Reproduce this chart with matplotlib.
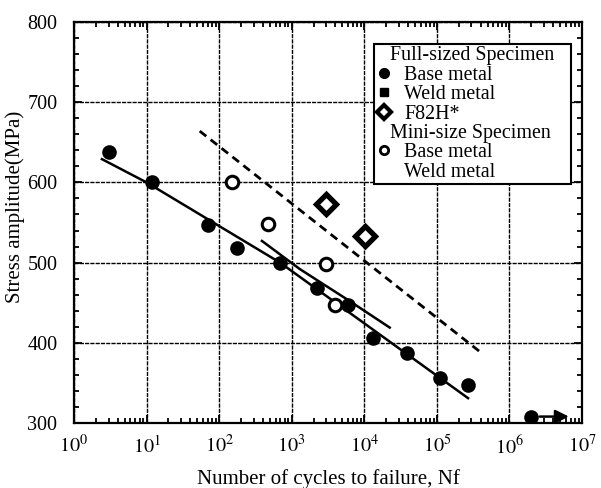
import matplotlib
matplotlib.use('Agg')
import matplotlib.pyplot as plt
from matplotlib.lines import Line2D
from matplotlib.ticker import LogLocator, MultipleLocator, NullFormatter
import numpy as np

plt.rcParams['font.family'] = ['Liberation Serif', 'DejaVu Serif']
plt.rcParams['mathtext.fontset'] = 'stix'

# full-sized base metal
base_N = [3.0, 12, 70, 177, 690, 2230, 5900, 13000, 38500, 110000, 270000]
base_S = [638, 600, 547, 518, 500, 468, 447, 406, 387, 356, 348]
# run-out specimen
runout_N = [2.0e6]
runout_S = [308]
runout_arrow_N = [2.4e6, 7.2e6]
# mini-size base metal
mini_N = [150, 470, 3000, 4000]
mini_S = [600, 548, 498, 447]
# F82H*
f82h_N = [3000, 10200]
f82h_S = [573, 533]

# fitted curves
fit_base_N = [2.43, 10, 690, 269000]
fit_base_S = [629, 600, 500, 331]
fit_mini_N = [389, 1290, 6300, 22400]
fit_mini_S = [527, 492, 452, 419]
fit_f82h_N = [54, 430000]
fit_f82h_S = [664, 386]

xticks = [10.0 ** k for k in range(0, 8)]
xticklabels = ['$10^{%d}$' % k for k in range(0, 8)]
yticks = [300, 400, 500, 600, 700, 800]

fig = plt.figure(figsize=(6.01, 4.88), dpi=100)
ax = fig.add_axes([0.1231, 0.1332, 0.8453, 0.8217])

ax.plot(fit_base_N, fit_base_S, color='k', lw=1.8, zorder=3)
ax.plot(fit_mini_N, fit_mini_S, color='k', lw=1.8, zorder=3)
ax.plot(fit_f82h_N, fit_f82h_S, color='k', lw=2.0, ls=(0, (3, 2)), zorder=3)

ax.plot(base_N, base_S, 'o', color='k', ms=9.5, zorder=4)
ax.plot(runout_N, runout_S, 'o', color='k', ms=9.5, zorder=4)
ax.plot(mini_N, mini_S, 'o', mfc='white', mec='k', mew=2.2, ms=9, zorder=4)
ax.plot(f82h_N, f82h_S, 'D', mfc='white', mec='k', mew=3.8, ms=10, zorder=4)

ax.annotate('', xy=(runout_arrow_N[1], runout_S[0]), xytext=(runout_arrow_N[0], runout_S[0]),
            arrowprops=dict(arrowstyle='-|>', color='k', lw=1.8, mutation_scale=20), zorder=5)

ax.set_xscale('log')
ax.set_xlim(1, 1e7)
ax.set_ylim(300, 800)
ax.set_xticks(xticks)
ax.set_xticklabels(xticklabels)
ax.xaxis.set_minor_locator(LogLocator(base=10, subs=np.arange(2, 10), numticks=20))
ax.xaxis.set_minor_formatter(NullFormatter())
ax.set_yticks(yticks)
ax.yaxis.set_minor_locator(MultipleLocator(20))

ax.tick_params(which='both', direction='in', top=True, right=True, width=1.3)
ax.tick_params(which='major', length=6, labelsize=14.5)
ax.tick_params(which='minor', length=3.5)
ax.tick_params(axis='y', pad=12)
ax.tick_params(axis='x', pad=9)

ax.grid(True, which='major', color='k', lw=1.0, ls=(0, (3, 0.8)))
for s in ax.spines.values():
    s.set_linewidth(1.6)

ax.set_xlabel('Number of cycles to failure, Nf', fontsize=15)
ax.xaxis.set_label_coords(0.5, -0.115)
ax.set_ylabel('Stress amplitude(MPa)', fontsize=15)
ax.yaxis.set_label_coords(-0.097, 0.54)

blank = Line2D([], [], ls='none')
handles = [
    blank,
    Line2D([], [], marker='o', ls='none', color='k', ms=7),
    Line2D([], [], marker='s', ls='none', color='k', ms=5.5),
    Line2D([], [], marker='D', ls='none', mfc='white', mec='k', mew=3, ms=7),
    blank,
    Line2D([], [], marker='o', ls='none', mfc='white', mec='k', mew=2, ms=6),
    blank,
]
labels = ['Full-sized Specimen', 'Base metal', 'Weld metal', 'F82H*',
          'Mini-size Specimen', 'Base metal', 'Weld metal']
leg = ax.legend(handles, labels, loc='upper left', bbox_to_anchor=(0.59, 0.945),
                fontsize=14.4, frameon=True, fancybox=False, framealpha=1,
                edgecolor='k', borderpad=0.12, labelspacing=0.02,
                handlelength=0.8, handletextpad=0.6, borderaxespad=0)
leg.get_frame().set_linewidth(1.5)
leg.set_zorder(6)
# shift the header lines left, as in the original
for i in (0, 4):
    leg.get_texts()[i].set_position((-14, 0))

fig.savefig('out.png', dpi=100)
